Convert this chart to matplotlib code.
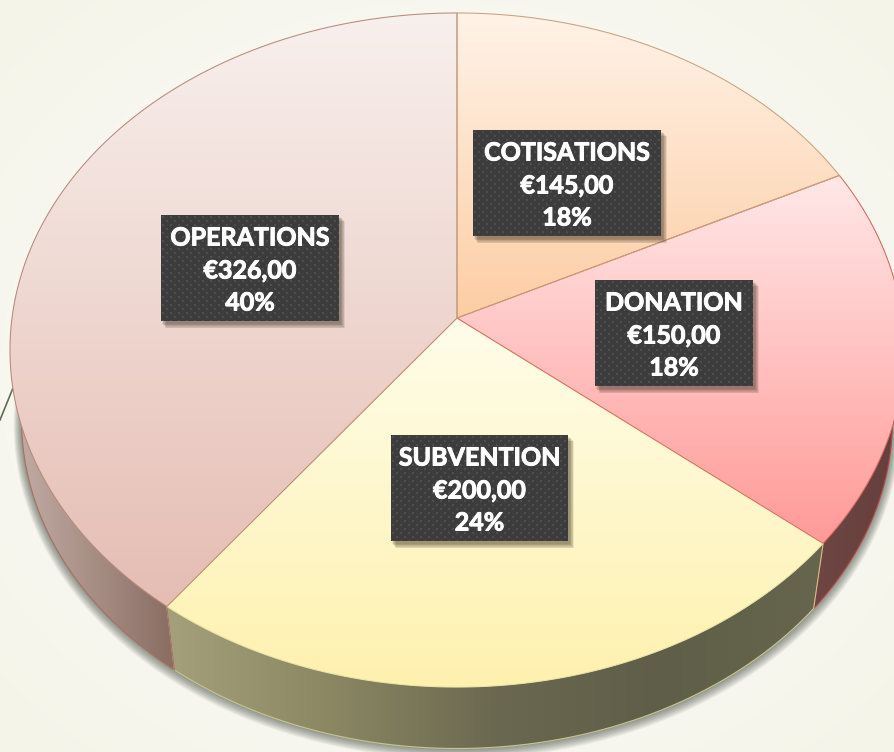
import matplotlib
matplotlib.use('Agg')
import matplotlib.pyplot as plt
import matplotlib.patheffects as pe
import numpy as np
from matplotlib.patches import Polygon, Rectangle
from matplotlib.colors import LinearSegmentedColormap

# values of the chart
categories = ['COTISATIONS', 'DONATION', 'SUBVENTION', 'OPERATIONS']
values = [145, 150, 200, 326]

# styles
top_colors = [('#fff3e8', '#fdcda4'), ('#ffe8e8', '#ff9a97'),
              ('#fffdea', '#fef1ae'), ('#f8f0ed', '#e5bdb3')]
edge_colors = ['#c9a27e', '#d9695f', '#ece5a8', '#b98a7a']
# wall colours from left to right
wall_colors = [['#7a6a55', '#7a6a55'], ['#6e4644', '#653f3d'],
               ['#a5a07c', '#8b8763', '#6a6850', '#5f5e48', '#66654d'],
               ['#c3aea7', '#a88f86', '#896c62']]
wall_edges = ['#8a7558', '#b5443c', '#c8c48c', '#a8705f']
# upper left corner of the label boxes, in pixels
box_pos = [(473, 130), (595, 280), (391, 435), (161, 215)]
box_size = [(188, 106), (158, 106), (177, 106), (178, 106)]

W, H = 895, 752
CX, CY = 457, 318
A, B, K = 445, 334, 0.095
DEPTH, SHRINK = 71, 0.974


def ring(ang, scale=1.0, drop=0.0):
    # ang in radians, clockwise from the top
    u, v = np.sin(ang), np.cos(ang)
    d = 1 + K * v
    return np.column_stack((CX + scale * A * u / d, CY + drop - scale * B * v / d))


def gradient_fill(ax, poly, colors, horizontal=False, zorder=2):
    xs, ys = poly[:, 0], poly[:, 1]
    cmap = LinearSegmentedColormap.from_list('g', colors)
    g = np.linspace(0, 1, 256)
    img = g[None, :] if horizontal else g[:, None]
    im = ax.imshow(img, cmap=cmap, vmin=0, vmax=1, aspect='auto', zorder=zorder,
                   extent=(xs.min(), xs.max(), ys.max(), ys.min()),
                   interpolation='bilinear')
    clip = Polygon(poly, closed=True, transform=ax.transData)
    im.set_clip_path(clip)


fig = plt.figure(figsize=(W / 100, H / 100), dpi=100)
ax = fig.add_axes([0, 0, 1, 1])
ax.axis('off')

# page background, a bit yellower in the corners
yy, xx = np.mgrid[0:H, 0:W]
r = np.hypot((xx - W / 2) / (W / 2), (yy - H / 2) / (H / 2)) / 1.414
bg_map = LinearSegmentedColormap.from_list('bg', ['#fbfaf7', '#f9f9f4', '#f5f4e8'])
ax.imshow(r, cmap=bg_map, vmin=0, vmax=1, extent=(0, W, H, 0), aspect='auto', zorder=0)
ax.plot([0, 13], [420, 388], color='#5f6f50', lw=1.2, zorder=1)

total = sum(values)
edges = np.concatenate(([0], np.cumsum(values))) / total * 2 * np.pi

# soft shadow below the wall
full = np.linspace(0, 2 * np.pi, 361)
for i in range(8):
    shadow = ring(full, SHRINK + 0.0022 * (8 - i), DEPTH + 0.5 * (8 - i))
    ax.add_patch(Polygon(shadow, closed=True, fc='#202a20', ec='none', alpha=0.07, zorder=1.5))

# walls
for i in range(len(values)):
    ang = np.linspace(edges[i], edges[i + 1], 200)
    front = ang[np.cos(ang) < 0.35]
    if len(front) == 0:
        continue
    upper = ring(front)
    lower = ring(front, SHRINK, DEPTH)
    poly = np.vstack((upper, lower[::-1]))
    gradient_fill(ax, poly, wall_colors[i], horizontal=True, zorder=2)
    ax.plot(lower[:, 0], lower[:, 1], color=wall_edges[i], lw=0.8, zorder=2.2)
    # seam at the start of the slice
    for a in (edges[i], edges[i + 1]):
        if np.cos(a) < 0 and i != 0:
            p = np.vstack((ring(np.array([a])), ring(np.array([a]), SHRINK, DEPTH)))
            ax.plot(p[:, 0], p[:, 1], color=wall_edges[i], lw=0.8, zorder=2.3)

# top faces, cotisations outline ends on top
for n, i in enumerate([2, 1, 3, 0]):
    ang = np.linspace(edges[i], edges[i + 1], 200)
    poly = np.vstack(([[CX, CY]], ring(ang)))
    gradient_fill(ax, poly, top_colors[i], zorder=3)
    ax.add_patch(Polygon(poly, closed=True, fc='none', ec=edge_colors[i], lw=0.75, zorder=3.2 + n * 0.1))

# labels
tile = np.zeros((8, 8))
tile[1:3, 1:3] = 1
tile[5:7, 5:7] = 1
dots = LinearSegmentedColormap.from_list('d', ['#3c3c3c', '#4e4e4e'])
for i, name in enumerate(categories):
    x0, y0 = box_pos[i]
    w, h = box_size[i]
    for s in range(7):
        ax.add_patch(Rectangle((x0 + 1 + s * 0.7, y0 + 2 + s * 0.7), w + 1, h + 1, fc='#3a3020',
                               ec='none', alpha=0.09, zorder=4))
    ny, nx = int(h // 8 + 1), int(w // 8 + 1)
    pattern = np.tile(tile, (ny, nx))[:h, :w]
    ax.imshow(pattern, cmap=dots, vmin=0, vmax=1, extent=(x0, x0 + w, y0 + h, y0),
              aspect='auto', interpolation='bilinear', zorder=5)
    money = '€{:.2f}'.format(values[i]).replace('.', ',')
    pct = '{:.0f}%'.format(values[i] / total * 100)
    for line, dy in zip((name, money, pct), (23, 56, 88)):
        ax.text(x0 + w / 2, y0 + dy, line, color='white', fontsize=18, fontweight='bold',
                family='Lato', ha='center', va='center', zorder=6,
                path_effects=[pe.withStroke(linewidth=0.7, foreground='white')])

ax.set_xlim(0, W)
ax.set_ylim(H, 0)
fig.savefig('out.png', dpi=100)
